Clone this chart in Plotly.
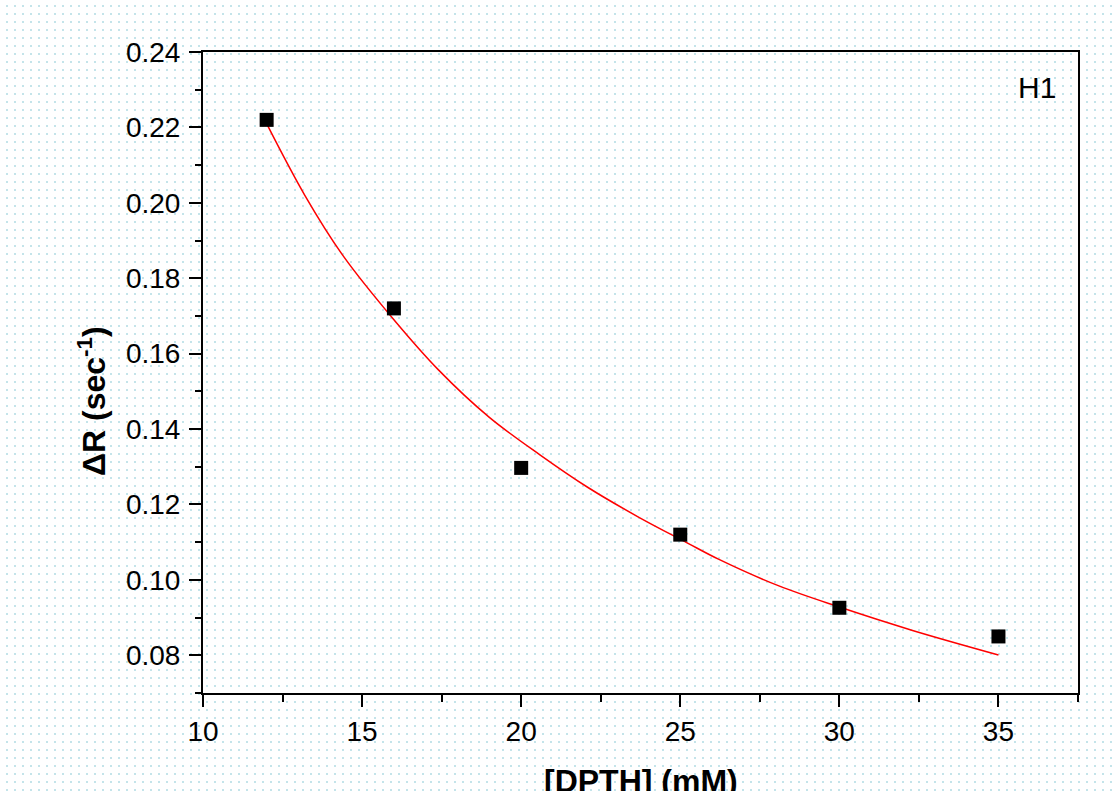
import plotly.graph_objects as go
import urllib.parse

# Measured data
conc_mM = [12, 16, 20, 25, 30, 35]
delta_R = [0.222, 0.172, 0.1297, 0.112, 0.0926, 0.085]

# Fitted curve
fit_x = [12.0, 13.2, 14.4, 16.0, 17.4, 19.0, 20.6, 22.1, 23.7, 25.2, 26.2, 28.1, 30.0, 32.3, 35.0]
fit_y = [0.2210, 0.2020, 0.1860, 0.1690, 0.1557, 0.1431, 0.1331, 0.1245, 0.1166, 0.1099,
         0.1055, 0.0984, 0.0928, 0.0866, 0.0801]

x_ticks = [10, 15, 20, 25, 30, 35]
y_ticks = [0.08, 0.10, 0.12, 0.14, 0.16, 0.18, 0.20, 0.22, 0.24]

W, H = 1115, 791
L, R, T, B = 203, 37, 52, 98
pw, ph = W - L - R, H - T - B

FONT = "Liberation Sans, Arial, Helvetica, sans-serif"

# dotted background pattern
svg = (
    f"<svg xmlns='http://www.w3.org/2000/svg' width='{W}' height='{H}'>"
    "<defs><pattern id='p' width='8' height='8' patternUnits='userSpaceOnUse'>"
    "<rect x='6' y='5' width='2' height='2' fill='#c4e4ea'/>"
    "</pattern></defs>"
    f"<rect width='{W}' height='{H}' fill='white'/>"
    f"<rect width='{W}' height='{H}' fill='url(#p)'/></svg>"
)
src = "data:image/svg+xml;charset=utf-8," + urllib.parse.quote(svg)

fig = go.Figure()
fig.add_trace(go.Scatter(
    x=fit_x, y=fit_y, mode="lines",
    line=dict(color="#ff0000", width=1.5, shape="spline", smoothing=1.0),
    showlegend=False, hoverinfo="skip",
))
fig.add_trace(go.Scatter(
    x=conc_mM, y=delta_R, mode="markers",
    marker=dict(symbol="square", size=14, color="black"),
    showlegend=False,
))

axis_common = dict(
    showgrid=False, zeroline=False,
    showline=True, linecolor="black", linewidth=2, mirror=True,
    ticks="outside", ticklen=12, tickwidth=2, tickcolor="black",
    tickfont=dict(family=FONT, size=28, color="black"),
)

fig.update_xaxes(
    range=[10, 37.5], tickvals=x_ticks, ticktext=[str(v) for v in x_ticks],
    minor=dict(ticks="outside", ticklen=7, tickwidth=2, tickcolor="black", dtick=2.5, tick0=10),
    ticklabelstandoff=0,
    **axis_common,
)
fig.update_yaxes(
    range=[0.07, 0.24], tickvals=y_ticks, ticktext=[f"{v:.2f}" for v in y_ticks],
    minor=dict(ticks="outside", ticklen=6, tickwidth=2, tickcolor="black", dtick=0.01, tick0=0.07),
    ticklabelstandoff=3,
    **axis_common,
)

fig.update_layout(
    width=W, height=H,
    margin=dict(l=L, r=R, t=T, b=B, pad=0),
    paper_bgcolor="white", plot_bgcolor="rgba(0,0,0,0)",
    images=[dict(
        source=src, xref="paper", yref="paper",
        x=-L / pw, y=1 + T / ph, sizex=W / pw, sizey=H / ph,
        xanchor="left", yanchor="top", sizing="stretch", layer="below",
    )],
    annotations=[
        dict(text="<b>[DPTH] (mM)</b>", xref="paper", yref="paper",
             x=(641 - L) / pw, y=(H - B - 781) / ph, xanchor="center", yanchor="middle",
             showarrow=False, font=dict(family=FONT, size=32, color="black")),
        dict(text="<b>ΔR (sec<sup>-1</sup>)</b>", xref="paper", yref="paper",
             x=(92 - L) / pw, y=(H - B - 401) / ph, xanchor="center", yanchor="middle",
             textangle=-90, showarrow=False, font=dict(family=FONT, size=32, color="black")),
        dict(text="H1", xref="paper", yref="paper",
             x=(1058 - L) / pw, y=(H - B - 88) / ph, xanchor="right", yanchor="middle",
             showarrow=False, font=dict(family=FONT, size=30, color="black")),
    ],
)

fig.write_html(
    "out.html",
    config={"displayModeBar": False},
    post_script="document.body.style.margin='0';document.body.style.overflow='hidden';",
)
